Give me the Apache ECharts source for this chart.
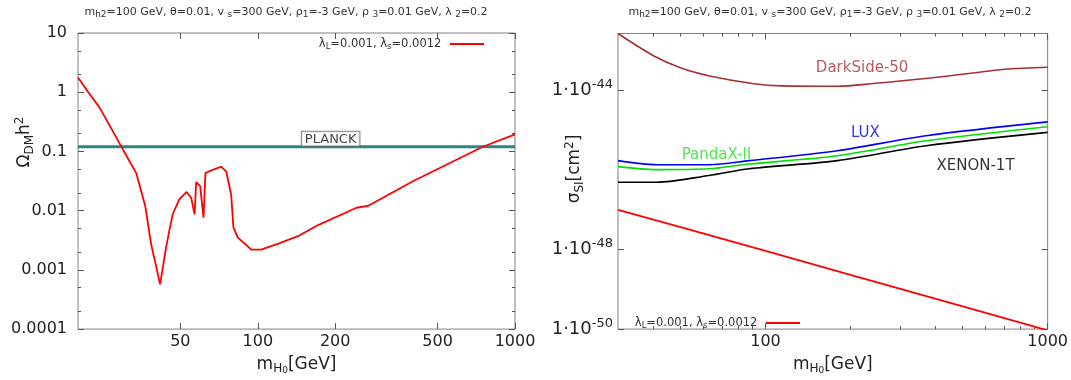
<!DOCTYPE html>
<html>
<head>
<meta charset="utf-8">
<script src="https://cdn.jsdelivr.net/npm/echarts@6/dist/echarts.min.js"></script>
<style>
html, body { margin: 0; padding: 0; background: #fff; }
#chart { width: 1071px; height: 380px; }
</style>
</head>
<body>
<div id="chart"></div>
<script>
// ---- left panel: relic density vs m_H0 ----
var massRelic = [20, 22, 24.2, 27, 30, 33.7, 36.5, 38.5, 40, 41.7, 44, 45.3, 46.7, 49.5, 52.9, 55.1, 56.8, 57.6,
    59.7, 61.5, 62.6, 66.9, 72.1, 75.4, 78.8, 80.4, 83.6, 88.8, 94.3, 103, 121, 145, 170, 242, 268, 401, 750, 1000];
var omegaRelic = [1.78, 0.98, 0.56, 0.24, 0.105, 0.043, 0.012, 0.0027, 0.0013, 0.00057, 0.0024, 0.0046, 0.0087, 0.0155, 0.0207, 0.0164, 0.0087, 0.0304,
    0.0259, 0.0076, 0.043, 0.049, 0.0555, 0.0458, 0.0187, 0.0052, 0.0035, 0.0028, 0.0022, 0.0022, 0.0028, 0.0038, 0.0056, 0.0112, 0.012, 0.0313, 0.12, 0.194];
var planckMass = [20, 1000];
var planckOmega = 0.12;

var xTicksLeft = [50, 100, 200, 500, 1000];
var yTicksLeft = [0.0001, 0.001, 0.01, 0.1, 1, 10];
var yLabelsLeft = ['0.0001', '0.001', '0.01', '0.1', '1', '10'];
var yMinorLeft = [0.0002, 0.0005, 0.002, 0.005, 0.02, 0.05, 0.2, 0.5, 2, 5];

// ---- right panel: direct detection, sigma in cm^2 ----
var massSigma = [30, 50, 100, 200, 500, 1000];
var sigmaModel = [9.8e-48, 3.6e-48, 9.2e-49, 2.3e-49, 3.7e-50, 9.3e-51];
var massDarkSide = [30, 40.2, 49.9, 63.4, 89.8, 114, 180, 242, 413, 706, 1000];
var sigmaDarkSide = [2.6e-43, 7.1e-44, 3.6e-44, 2.24e-44, 1.45e-44, 1.26e-44, 1.23e-44, 1.45e-44, 2.1e-44, 3.3e-44, 3.7e-44];
var massExp = [30, 41, 63, 87.5, 180, 371, 1000];
var sigmaLux = [1.68e-46, 1.33e-46, 1.33e-46, 1.68e-46, 2.99e-46, 7.1e-46, 1.58e-45];
var sigmaPandax = [1.19e-46, 1.0e-46, 1.05e-46, 1.38e-46, 2.24e-46, 5.3e-46, 1.19e-45];
var sigmaXenon = [4.84e-47, 4.84e-47, 7.1e-47, 1.05e-46, 1.68e-46, 3.98e-46, 8.6e-46];

var xTicksRight = [100, 1000];
var xMinorRight = [40, 50, 60, 70, 80, 90, 200, 300, 400, 500, 600, 700, 800, 900];
var yTicksRight = [1e-50, 1e-48, 1e-44];
var sigmaMin = 1e-50, sigmaMax = 2.6e-43;

// text annotations (anchored in data space)
var noteNames = ['DarkSide-50', 'LUX', 'PandaX-II', 'XENON-1T'];
var noteMass = [220, 226, 67, 555];
var noteSigma = [3.6e-44, 8.3e-46, 2.35e-46, 1.22e-46];
var noteColors = ['#a83034', '#0000ee', '#22dd22', '#000000'];
var planckLabelMass = 192;

var seriesName = 'λL=0.001, λs=0.0012';
var FONT = 'DejaVu Sans';

// the log scale rounds very small numbers to 0, so the right axis runs in units of 1e-50 cm^2
var UNIT = 1e-50;
function u(v) { return v / UNIT; }

var chart = echarts.init(document.getElementById('chart'));

function axisOf(grid, pos, min, max, ticks, len, label) {
    var a = {
        type: 'log', gridIndex: grid, position: pos, min: min, max: max,
        axisLine: { show: false },
        splitLine: { show: false },
        axisTick: { show: true, inside: true, length: len, customValues: ticks, lineStyle: { color: '#555', width: 1 } },
        axisLabel: { show: false }
    };
    if (label) {
        a.axisLabel = label;
        a.axisLabel.customValues = ticks;
    }
    return a;
}

var subRich = {
    s: { fontSize: 12, lineHeight: 12, verticalAlign: 'bottom', fontFamily: FONT, color: '#222' },
    ss: { fontSize: 9, lineHeight: 6, verticalAlign: 'bottom', fontFamily: FONT, color: '#222' },
    p: { fontSize: 12, lineHeight: 12, verticalAlign: 'top', fontFamily: FONT, color: '#222' }
};

var xName = {
    name: 'm{s|H}{ss|0}[GeV]', nameLocation: 'middle', nameGap: 24,
    nameTextStyle: { fontSize: 17, lineHeight: 20, color: '#222', fontFamily: FONT, rich: subRich }
};
function plainNum(v) { return String(Math.round(v)); }

var xLeft = axisOf(0, 'bottom', 20, 1000, xTicksLeft, 6, {
    margin: 5, fontSize: 16, color: '#222', fontFamily: FONT, formatter: plainNum
});
Object.assign(xLeft, xName);
var xRight = axisOf(1, 'bottom', 30, 1000, xTicksRight, 6, {
    margin: 5, fontSize: 16, color: '#222', fontFamily: FONT, formatter: plainNum
});
Object.assign(xRight, xName);

var yLeft = axisOf(0, 'left', 0.0001, 10, yTicksLeft, 6, {
    margin: 11, fontSize: 16, color: '#222', fontFamily: FONT,
    formatter: function (v) {
        var i = yTicksLeft.findIndex(function (t) { return Math.abs(Math.log10(t) - Math.log10(v)) < 0.01; });
        return i >= 0 ? yLabelsLeft[i] : '';
    }
});
var yRight = axisOf(1, 'left', u(sigmaMin), u(sigmaMax), yTicksRight.map(u), 6, {
    margin: 5, fontSize: 18, color: '#222', fontFamily: FONT,
    formatter: function (v) {
        return '{b|1·10}{p|' + Math.round(Math.log10(v * UNIT)) + '}';
    },
    rich: {
        b: { fontSize: 18, lineHeight: 24, fontFamily: FONT, color: '#222' },
        p: { fontSize: 13, lineHeight: 13, verticalAlign: 'top', fontFamily: FONT, color: '#222' }
    }
});

function legendOf(right, top) {
    return {
        data: [seriesName], right: right, top: top, padding: 0, align: 'right', icon: 'rect',
        itemWidth: 34, itemHeight: 2, selectedMode: false,
        formatter: function () { return 'λ{s|L}=0.001, λ{s|s}=0.0012 '; },
        textStyle: { fontSize: 11.5, lineHeight: 14, color: '#333', fontFamily: FONT,
            rich: { s: { fontSize: 8.5, lineHeight: 8, verticalAlign: 'bottom', fontFamily: FONT, color: '#333' } } }
    };
}

var titleText = 'm{s|h2}=100 GeV, θ=0.01, v {s|s}=300 GeV, ρ{s|1}=-3 GeV, ρ {s|3}=0.01 GeV, λ {s|2}=0.2';
function titleOf(x) {
    return { type: 'text', x: x, y: 12, style: {
        text: titleText, font: '11px "DejaVu Sans"', fill: '#333', align: 'center', verticalAlign: 'middle', lineHeight: 14,
        rich: { s: { fontSize: 9, lineHeight: 9, verticalAlign: 'bottom', fontFamily: FONT, fill: '#333' } } } };
}

var option = {
    animation: false,
    backgroundColor: '#fff',
    grid: [
        { left: 78, top: 33, width: 437, height: 300, show: true, borderColor: '#808080', borderWidth: 1, backgroundColor: 'transparent' },
        { left: 618, top: 33.5, width: 435, height: 299, show: true, borderColor: '#808080', borderWidth: 1, backgroundColor: 'transparent' }
    ],
    xAxis: [
        xLeft,
        axisOf(0, 'top', 20, 1000, xTicksLeft, 6),
        xRight,
        axisOf(1, 'bottom', 30, 1000, xMinorRight, 3),
        axisOf(1, 'top', 30, 1000, xTicksRight, 6),
        axisOf(1, 'top', 30, 1000, xMinorRight, 3)
    ],
    yAxis: [
        yLeft,
        axisOf(0, 'left', 0.0001, 10, yMinorLeft, 3),
        axisOf(0, 'right', 0.0001, 10, yTicksLeft, 6),
        axisOf(0, 'right', 0.0001, 10, yMinorLeft, 3),
        yRight,
        axisOf(1, 'right', u(sigmaMin), u(sigmaMax), yTicksRight.map(u), 6)
    ],
    legend: [legendOf(587, 37), legendOf(271, 316)],
    graphic: [
        titleOf(286),
        titleOf(830),
        { type: 'text', x: 25, y: 142, rotation: Math.PI / 2, style: {
            text: 'Ω{s|DM}h{p|2}', font: '17px "DejaVu Sans"', fill: '#222', align: 'center', verticalAlign: 'middle',
            lineHeight: 22, rich: subRich } },
        { type: 'text', x: 575, y: 169, rotation: Math.PI / 2, style: {
            text: 'σ{s|SI}[cm{p|2}]', font: '17px "DejaVu Sans"', fill: '#222', align: 'center', verticalAlign: 'middle',
            lineHeight: 22, rich: subRich } }
    ],
    series: [
        {
            name: 'PLANCK', type: 'line', xAxisIndex: 0, yAxisIndex: 0, symbol: 'none', silent: true,
            lineStyle: { color: '#2a8585', width: 3 },
            data: planckMass.map(function (m) { return [m, planckOmega]; })
        },
        {
            name: 'PLANCK label', type: 'scatter', xAxisIndex: 0, yAxisIndex: 0, symbolSize: 0, silent: true, z: 5,
            data: [[planckLabelMass, planckOmega]],
            label: { show: true, formatter: 'PLANCK', position: 'top', distance: 1, fontSize: 13, color: '#111',
                fontFamily: FONT, backgroundColor: '#fff', borderColor: '#666', borderWidth: 1, padding: [1, 3, 0, 3] }
        },
        {
            name: seriesName, type: 'line', xAxisIndex: 0, yAxisIndex: 0, symbol: 'none',
            lineStyle: { color: '#ff0000', width: 1.8 }, itemStyle: { color: '#ff0000' },
            data: massRelic.map(function (m, i) { return [m, omegaRelic[i]]; })
        },
        {
            name: 'DarkSide-50', type: 'line', xAxisIndex: 2, yAxisIndex: 4, symbol: 'none', smooth: 0.3,
            lineStyle: { color: '#a83034', width: 1.6 },
            data: massDarkSide.map(function (m, i) { return [m, u(sigmaDarkSide[i])]; })
        },
        {
            name: 'LUX', type: 'line', xAxisIndex: 2, yAxisIndex: 4, symbol: 'none', smooth: 0.3,
            lineStyle: { color: '#0000ff', width: 1.6 },
            data: massExp.map(function (m, i) { return [m, u(sigmaLux[i])]; })
        },
        {
            name: 'PandaX-II', type: 'line', xAxisIndex: 2, yAxisIndex: 4, symbol: 'none', smooth: 0.3,
            lineStyle: { color: '#00e000', width: 1.6 },
            data: massExp.map(function (m, i) { return [m, u(sigmaPandax[i])]; })
        },
        {
            name: 'XENON-1T', type: 'line', xAxisIndex: 2, yAxisIndex: 4, symbol: 'none', smooth: 0.3,
            lineStyle: { color: '#000000', width: 1.6 },
            data: massExp.map(function (m, i) { return [m, u(sigmaXenon[i])]; })
        },
        {
            name: seriesName, type: 'line', xAxisIndex: 2, yAxisIndex: 4, symbol: 'none',
            lineStyle: { color: '#ff0000', width: 1.8 }, itemStyle: { color: '#ff0000' },
            data: massSigma.map(function (m, i) { return [m, u(sigmaModel[i])]; })
        },
        {
            name: 'notes', type: 'scatter', xAxisIndex: 2, yAxisIndex: 4, symbolSize: 0, silent: true,
            data: noteNames.map(function (n, i) { return { value: [noteMass[i], u(noteSigma[i])], name: n,
                label: { color: noteColors[i] } }; }),
            label: { show: true, position: 'inside', formatter: '{b}', fontSize: 15, fontFamily: FONT }
        }
    ]
};

chart.setOption(option);
</script>
</body>
</html>
